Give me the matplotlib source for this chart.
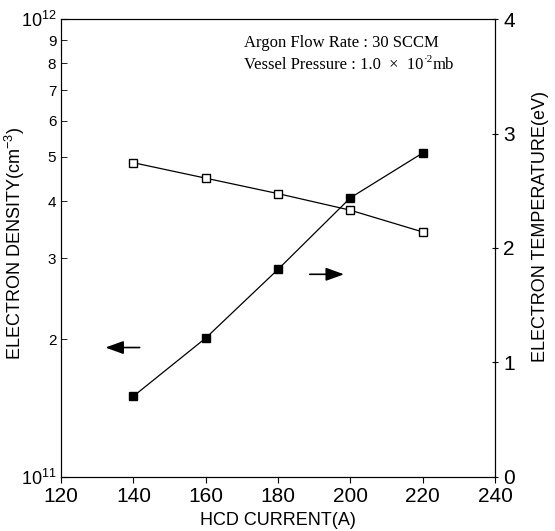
import math

import matplotlib
matplotlib.use("Agg")
import matplotlib.pyplot as plt
from matplotlib.ticker import FixedLocator, FuncFormatter

plt.rcParams["font.family"] = ["Liberation Sans", "DejaVu Sans"]
plt.rcParams["mathtext.fontset"] = "custom"
plt.rcParams["mathtext.rm"] = "Liberation Sans"

# data
current = [140, 160, 180, 200, 220]
density = [1.50e11, 2.01e11, 2.84e11, 4.07e11, 5.10e11]
temperature = [2.745, 2.61, 2.475, 2.33, 2.14]

x_ticks = [120, 140, 160, 180, 200, 220, 240]
minor_labels = [2, 3, 4, 5, 6, 7, 8, 9]
temp_ticks = [0, 1, 2, 3, 4]

fig = plt.figure(figsize=(5.55, 5.31), dpi=100)
ax = fig.add_axes([0.110, 0.102, 0.782, 0.862])

ax.plot(current, density, color="black", lw=0.9, marker="s", ms=6,
        mfc="black", mec="black")
ax.set_yscale("log")
ax.set_ylim(1e11, 1e12)
ax.set_xlim(120, 240)
ax.set_xticks(x_ticks)
ax.yaxis.set_major_locator(FixedLocator([1e11, 1e12]))
ax.yaxis.set_major_formatter(FuncFormatter(
    lambda v, p: r"$\mathrm{10^{%d}}$" % round(math.log10(v))))
ax.yaxis.set_minor_locator(FixedLocator([m * 1e11 for m in minor_labels]))
ax.yaxis.set_minor_formatter(FuncFormatter(lambda v, p: "%d" % round(v / 1e11)))
ax.tick_params(axis="y", which="minor", labelsize=11, length=4, direction="in")
ax.tick_params(axis="y", which="major", labelsize=13, length=5, direction="in")
ax.tick_params(axis="x", labelsize=15, length=4, direction="out")
ax.set_xlabel("HCD CURRENT(A)", fontsize=13)
ax.set_ylabel(r"ELECTRON DENSITY(cm$^{-3}$)", fontsize=13)
ax.yaxis.set_label_coords(-0.078, 0.51)

ax2 = ax.twinx()
ax2.plot(current, temperature, color="black", lw=0.9, marker="s", ms=6,
         mfc="white", mec="black")
ax2.set_ylim(0, 4)
ax2.set_yticks(temp_ticks)
ax2.tick_params(axis="y", labelsize=15, length=5, direction="inout")
ax2.set_ylabel("ELECTRON TEMPERATURE(eV)", fontsize=13)
ax2.yaxis.set_label_coords(1.085, 0.546)

# direction arrows
arrow = dict(arrowstyle="-|>,head_length=1.1,head_width=0.4",
             color="black", lw=1.2)
ax2.annotate("", xy=(131.5, 1.13), xytext=(142.5, 1.13), arrowprops=arrow)
ax2.annotate("", xy=(199, 1.77), xytext=(188, 1.77), arrowprops=arrow)

serif = dict(family="Liberation Serif", fontsize=12)
ax.text(170.6, 8.7e11, "Argon Flow Rate : 30 SCCM", va="baseline", **serif)
t1 = ax.text(170.6, 7.8e11, "Vessel Pressure : 1.0  \u00d7  10", va="baseline",
             **serif)
t2 = ax.annotate("\u00b72", xy=(1, 0.55), xycoords=t1, va="bottom",
                 family="Liberation Serif", fontsize=8)
ax.annotate("mb", xy=(1, 0), xycoords=(t2, t1), va="bottom", **serif)

fig.savefig("out.png", dpi=100)
